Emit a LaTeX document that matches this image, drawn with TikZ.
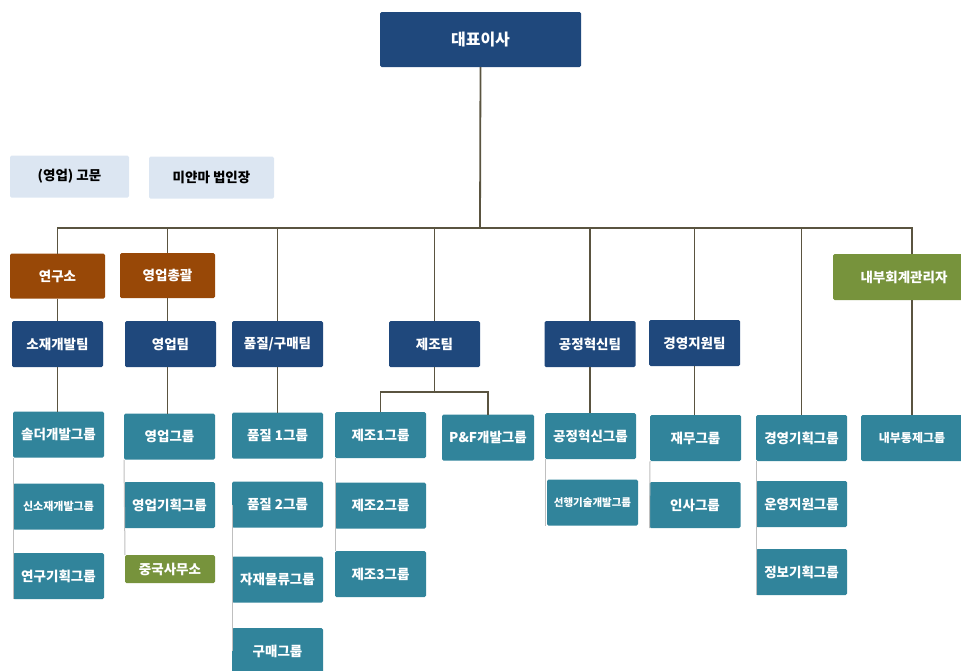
\documentclass[tikz,border=0pt]{standalone}
\usepackage{fontspec}
\setmainfont{Noto Sans CJK KR}
\usetikzlibrary{positioning}
\definecolor{orgnavy}{HTML}{1F487C}
\definecolor{orgteal}{HTML}{31849B}
\definecolor{orgrust}{HTML}{984807}
\definecolor{orggreen}{HTML}{77933C}
\definecolor{orgpale}{HTML}{DCE6F2}
\definecolor{orgline}{HTML}{5A5440}
\definecolor{orgside}{HTML}{BFBFBF}
\tikzset{%
   orgbox/.style={rectangle, rounded corners=1.5pt, inner sep=0pt, outer sep=0pt, minimum width=91pt, minimum height=46pt, text=white, font=\bfseries\fontsize{13.5}{15}\selectfont},
   ceobox/.style={orgbox, fill=orgnavy, minimum width=201pt, minimum height=55pt, font=\bfseries\fontsize{16}{18}\selectfont},
   advbox/.style={orgbox, fill=orgpale, text=black, minimum height=42pt},
   headbox/.style={orgbox, fill=orgrust, minimum width=95pt, minimum height=45pt},
   teambox/.style={orgbox, fill=orgnavy},
   grpbox/.style={orgbox, fill=orgteal},
   greenbox/.style={orgbox, fill=orggreen},
   link/.style={draw=orgline, line width=1.8pt},
   side/.style={draw=orgside, line width=1pt},
}
\begin{document}
\begin{tikzpicture}[x=1pt, y=-1pt]
   \useasboundingbox (0,0) rectangle (961,670);
   \node[ceobox] (ceo) at (480.5,39.5) {대표이사};
   \node[advbox, minimum width=119pt] (adv1) at (69.5,176.5) {(영업) 고문};
   \node[advbox, minimum width=125pt] (adv2) at (211.5,177.5) {미얀마 법인장};
   \node[headbox] (lab) at (57.5,276) {연구소};
   \node[headbox] (salesh) at (167.5,275.5) {영업총괄};
   \node[greenbox, minimum width=142pt] (audit) at (904,277) {내부회계관리자};
   \node[teambox] (t1) at (57.5,344) {소재개발팀};
   \node[teambox] (t2) at (170.5,344) {영업팀};
   \node[teambox] (t3) at (277.5,344) {품질/구매팀};
   \node[teambox] (t4) at (434.5,344) {제조팀};
   \node[teambox] (t5) at (590,344) {공정혁신팀};
   \node[teambox] (t6) at (694.5,343) {경영지원팀};
   \node[grpbox] (g11) at (58.5,434.5) {솔더개발그룹};
   \node[grpbox, font=\bfseries\fontsize{11}{12}\selectfont] (g12) at (58.5,506.5) {신소재개발그룹};
   \node[grpbox] (g13) at (58.5,576) {연구기획그룹};
   \node[grpbox] (g21) at (169.5,436.5) {영업그룹};
   \node[grpbox] (g22) at (169.5,505) {영업기획그룹};
   \node[greenbox, minimum width=90pt, minimum height=28pt] (china) at (170,569) {중국사무소};
   \node[grpbox] (g31) at (277.5,435.5) {품질 1그룹};
   \node[grpbox] (g32) at (277.5,504.5) {품질 2그룹};
   \node[grpbox] (g33) at (277.5,579.5) {자재물류그룹};
   \node[grpbox] (g34) at (277.5,651) {구매그룹};
   \node[grpbox] (g41) at (380.5,435) {제조1그룹};
   \node[grpbox] (g42) at (380.5,505.5) {제조2그룹};
   \node[grpbox] (g43) at (380.5,574) {제조3그룹};
   \node[grpbox, minimum width=92pt] (pf) at (488,437.5) {P\&F개발그룹};
   \node[grpbox] (g51) at (590.5,436) {공정혁신그룹};
   \node[grpbox, font=\bfseries\fontsize{10.5}{12}\selectfont] (g52) at (592.5,502.5) {선행기술개발그룹};
   \node[grpbox] (g61) at (695.5,438) {재무그룹};
   \node[grpbox] (g62) at (695,505) {인사그룹};
   \node[grpbox] (g71) at (801.5,438) {경영기획그룹};
   \node[grpbox] (g72) at (801.5,504) {운영지원그룹};
   \node[grpbox] (g73) at (801.5,572) {정보기획그룹};
   \node[grpbox, minimum width=102pt, font=\bfseries\fontsize{12}{13}\selectfont] (g81) at (912,438) {내부통제그룹};
   \coordinate (bus) at (480,228);
   \draw[link] (ceo.south) -- (bus);
   \foreach \n in {lab,salesh,t3,t4,t5,t6,g71}
      \draw[link] (bus) -| (\n.north);
   \draw[link] (bus) -| (audit.north -| g81.north);
   \draw[link] (audit.south -| g81.north) -- (g81.north);
   \draw[link] (lab.south) -- (t1.north);
   \draw[link] (t1.south) -- (t1.south |- g11.north);
   \draw[link] (salesh.south) -- (salesh.south |- t2.north);
   \draw[link] (t2.south -| salesh.south) -- (salesh.south |- g21.north);
   \draw[link] (t3.south) -- (g31.north);
   \draw[link] (t4.south) -- ++(0,25) -| (g41.north);
   \draw[link] (t4.south) -- ++(0,25) -| (pf.north);
   \draw[link] (t5.south) -- (t5.south |- g51.north);
   \draw[link] (t6.south) -- (t6.south |- g61.north);
   \draw[side] (g11.south west) -- (g13.south west);
   \draw[side] (g21.south west) -- (china.north west);
   \draw[side] (g32.west) -- (g34.west);
   \draw[side] (g41.south west) -- (g43.north west);
   \draw[side] (g51.south west) -- (g51.west |- g52.south);
   \draw[side] (g61.south west) -- (g62.south west);
   \draw[side] (g71.south west) -- (g73.south west);
\end{tikzpicture}
\end{document}
